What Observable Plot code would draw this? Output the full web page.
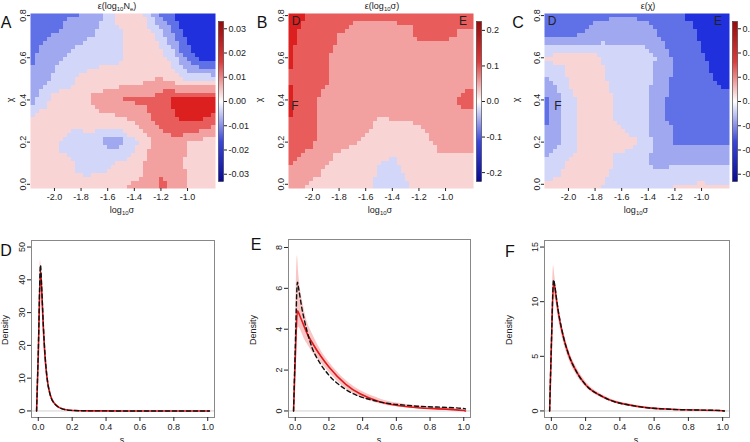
<!DOCTYPE html>
<html><head><meta charset="utf-8">
<script src="https://cdn.jsdelivr.net/npm/d3@7"></script>
<script src="https://cdn.jsdelivr.net/npm/@observablehq/plot@0.6"></script>
<style>
html,body{margin:0;padding:0;background:#fff;overflow:hidden;}
#wrap{position:relative;width:750px;height:442px;overflow:hidden;font-family:"Liberation Sans",Arial,Helvetica,sans-serif;color:#222;}
.p{position:absolute;top:0;left:0;}
.t{position:absolute;white-space:nowrap;transform:translate(-50%,-50%);font-size:9px;line-height:1;}
.r{transform:translate(-50%,-50%) rotate(-90deg);}
.L{font-size:16px;color:#111;}
.t sub{font-size:6px;vertical-align:-2px;line-height:0;}
</style></head><body><div id="wrap"></div>
<script>
// ---------- heatmap data ----------
const sigmaGrid = [-2.18,-2.1,-2.0,-1.9,-1.8,-1.7,-1.6,-1.5,-1.4,-1.3,-1.2,-1.1,-1.0,-0.9,-0.79];
const chiGrid = [0.81,0.7,0.6,0.5,0.4,0.3,0.2,0.1,-0.02];
const sigmaTicks = [-2.0,-1.8,-1.6,-1.4,-1.2,-1.0];
const chiTicks = [0.0,0.2,0.4,0.6,0.8];
// ε(log10 Ne), units of 0.001
const epsNe = [
 [-19,-19,-19,-18,-17,-12,-6,4,8,-4,-18,-26,-30,-32,-32],
 [-19,-18,-16,-12,-10,-8,-4,-2,5,5,-4,-16,-26,-30,-32],
 [-18,-14,-10,-7,-5,-3,-2,-1,2,4,4,-6,-20,-28,-30],
 [-16,-12,-6,-3,2,3,3,3,4,6,9,4,-2,-4,-4],
 [-12,-3,3,4,6,10,14,17,18,18,20,26,28,30,30],
 [2,3,3,3,3,4,5,6,8,14,20,24,26,25,20],
 [3,3,1,-3,-4,-4,-11,-11,-2,6,12,13,8,6,5],
 [3,3,3,2,-2,-3,-2,2,4,10,15,13,7,5,5],
 [3,3,3,3,3,4,5,8,10,12,18,15,8,6,5]
];
// ε(log10 σ), units of 0.01
const epsSigma = [
 [20,18,16,14,13,12.5,12.5,12.5,12.5,12.5,12.5,12.5,12.5,12,12],
 [19,16,14,13,11,10,9,8,9,10,12,12.5,12,11,11],
 [18,15,13,12,8,8,8,8,8,8,8,8,8,8,8],
 [17,15,12,12,8,8,8,8,8,8,8,8,8,8,10],
 [18,16,12,9,8,8,8,8,8,8,8,8,8,12,13],
 [17,15,12,10,8,8,7,5,5.5,5.5,6,7,8,9,9],
 [16,14,12,8,7,6,5,3,2,3,4,5.5,7,7,7],
 [12,10,8,6,4,3,2,0,-1,1,3,4,4,4,4],
 [8,7,4,3,3,2,1,-1,-2,-1,2,3,3,3,3]
];
// ε(χ), units of 0.001
const epsChi = [
 [-20,-20,-20,-19,-18,-18,-18,-18,-19,-20,-22,-26,-28,-30,-32],
 [-17,-17,-17,-16,-14,-12,-11,-11,-13,-17,-20,-22,-26,-28,-30],
 [1,3,3,3,2,-2,-4,-4,-5,-10,-18,-22,-24,-26,-28],
 [-10,-6,1,3,3,-1,-4,-4,-6,-14,-18,-20,-22,-25,-26],
 [-18,-12,-4,3,3,2,-3,-4,-8,-16,-18,-19,-20,-22,-24],
 [-18,-12,-4,3,3,2,-2,-4,-8,-16,-18,-19,-19,-20,-20],
 [-14,-10,-4,2,3,3,3,1,-6,-12,-18,-18,-18,-18,-18],
 [-6,-3,2,3,3,1,-3,-4,-8,-10,-8,-8,-8,-10,-10],
 [2,3,3,3,2,-2,-4,-4,-4,-4,1,2,3,3,3]
];
const cbTicksA = [-0.03,-0.02,-0.01,0,0.01,0.02,0.03];
const cbTicksB = [-0.2,-0.1,0,0.1,0.2];
const cbTicksC = [-0.03,-0.02,-0.01,0,0.01,0.02,0.03];

// ---------- density data ----------
const sGrid = [-0.01,0,0.013,0.02,0.03,0.04,0.05,0.07,0.1,0.15,0.2,0.3,0.5,0.7,1.0,1.01];
const sTicks = [0,0.2,0.4,0.6,0.8,1.0];
const trueD = [0,18,44.5,38,26,17,11,5,2,0.5,0.15,0.03,0,0,0,0];
const fitD  = [0,17,43,37,25.5,16.5,10.8,5,2,0.5,0.15,0.03,0,0,0,0];
const loD   = [0,15,40,34,23,15,10,4.5,1.8,0.4,0.1,0.02,0,0,0,0];
const hiD   = [0,20,46,40,28,18.5,12,5.5,2.2,0.6,0.2,0.05,0,0,0,0];
const trueE = [0,3.0,6.3,6.0,5.5,5.0,4.6,3.9,3.1,2.3,1.75,1.05,0.45,0.25,0.12,0.1];
const fitE  = [0,2.5,4.9,4.8,4.6,4.4,4.2,3.8,3.35,2.7,2.15,1.3,0.45,0.18,0.02,0];
const loE   = [0,1.5,4.0,4.1,4.0,3.8,3.6,3.3,2.9,2.4,1.9,1.1,0.35,0.12,0,0];
const hiE   = [0,4.0,7.6,6.8,6.0,5.5,5.1,4.4,3.8,3.0,2.4,1.5,0.6,0.28,0.06,0.03];
const trueF = [0,6,12,11.5,10.3,9.2,8.3,6.8,5.2,3.5,2.4,1.3,0.42,0.15,0.02,0];
const fitF  = [0,5.8,11.8,11.3,10.2,9.1,8.2,6.8,5.2,3.5,2.4,1.3,0.42,0.15,0.02,0];
const loF   = [0,5,10.6,10.4,9.6,8.6,7.7,6.3,4.8,3.2,2.2,1.15,0.35,0.12,0.01,0];
const hiF   = [0,7,13.3,12.4,11.0,9.8,8.9,7.4,5.7,3.9,2.7,1.45,0.5,0.18,0.03,0];
const ticksD = [0,10,20,30,40,50];
const ticksE = [0,2,4,6,8];
const ticksF = [0,5,10,15];

// ---------- drawing ----------
const FONT = '"Liberation Sans", Arial, Helvetica, sans-serif';
const wrap = document.getElementById("wrap");
const baseStyle = {fontSize: "9px", fontFamily: FONT, color: "#222", background: "transparent", overflow: "visible"};
const heatColors = ["#2030dc", "#6070e6", "#a0a8f0", "#d2d6f8", "#f8d4d4", "#f2a0a0", "#e85c5c", "#dc2020"];
const cbInterp = d3.piecewise(d3.interpolateRgb, ["#0a0a96", "#3a46e0", "#ffffff", "#e03a3a", "#9a0a0a"]);

function place(node, left, top) {
  node.classList.add("p");
  node.style.left = left + "px";
  node.style.top = top + "px";
  wrap.appendChild(node);
}

function gridPoints(grid, unit) {
  const pts = [];
  chiGrid.forEach((c, i) => sigmaGrid.forEach((s, j) => pts.push({x: s, y: c, v: grid[i][j] * unit})));
  return pts;
}

function heat(grid, unit, L, ml, mr) {
  const thr = [-0.75, -0.5, -0.25, 0, 0.25, 0.5, 0.75].map(t => t * L);
  return Plot.plot({
    width: 250, height: 220, marginLeft: ml, marginRight: mr, marginTop: 13, marginBottom: 32,
    style: baseStyle,
    x: {domain: [-2.18, -0.79]},
    y: {domain: [-0.02, 0.81]},
    color: {type: "threshold", domain: thr, range: heatColors},
    marks: [
      Plot.raster(gridPoints(grid, unit), {x: "x", y: "y", fill: "v", interpolate: "barycentric", pixelSize: 4,
        x1: -2.18, x2: -0.79, y1: -0.02, y2: 0.81, imageRendering: "pixelated"}),
      Plot.axisX({ticks: sigmaTicks, tickFormat: d => d.toFixed(1), tickSize: 3, tickPadding: 2, label: null}),
      Plot.axisY({ticks: chiTicks, tickFormat: d => d.toFixed(1), tickSize: 3, tickPadding: 2, tickRotate: -90, label: null})
    ]
  });
}

function colorbar(L, ticks, fmt) {
  return Plot.plot({
    width: 45, height: 220, marginLeft: 1, marginRight: 39, marginTop: 21, marginBottom: 39,
    style: baseStyle,
    x: {domain: [0, 1], axis: null},
    y: {domain: [-L, L]},
    color: {type: "linear", domain: [-L, L], interpolate: cbInterp},
    marks: [
      Plot.raster({fill: (x, y) => y, x1: 0, x2: 1, y1: -L, y2: L}),
      Plot.frame({stroke: "#333", strokeWidth: 0.6}),
      Plot.axisY({anchor: "right", ticks, tickFormat: fmt, tickSize: 3, tickPadding: 2, label: null})
    ]
  });
}

function dens(tr, fit, lo, hi, yDom, yTicks, ml, mr, mt) {
  const rows = sGrid.map((s, i) => ({s, tr: tr[i], fit: fit[i], lo: lo[i], hi: hi[i]}));
  const curve = "monotone-x";
  return Plot.plot({
    width: 250, height: 222, marginLeft: ml, marginRight: mr, marginTop: mt, marginBottom: 25,
    style: baseStyle,
    x: {domain: [-0.04, 1.04]},
    y: {domain: yDom},
    marks: [
      Plot.ruleY([0], {stroke: "#d0d0d0", strokeWidth: 1}),
      Plot.areaY(rows, {x: "s", y1: "lo", y2: "hi", fill: "#f07070", fillOpacity: 0.4, curve}),
      Plot.lineY(rows, {x: "s", y: "fit", stroke: "#e3191c", strokeWidth: 1.6, curve}),
      Plot.lineY(rows, {x: "s", y: "tr", stroke: "#111", strokeWidth: 1.4, strokeDasharray: "4,3", curve}),
      Plot.frame({stroke: "#888"}),
      Plot.axisX({ticks: sTicks, tickFormat: d => d.toFixed(1), tickSize: 4, tickPadding: 2, label: null}),
      Plot.axisY({ticks: yTicks, tickFormat: d => String(d), tickSize: 4, tickPadding: 3, tickRotate: -90, label: null})
    ]
  });
}

place(heat(epsNe, 0.001, 0.033, 30, 35), 0, 0);
place(heat(epsSigma, 0.01, 0.225, 38, 27), 250, 0);
place(heat(epsChi, 0.001, 0.033, 44, 21), 500, 0);
place(colorbar(0.033, cbTicksA, d => d.toFixed(2)), 217, 0);
place(colorbar(0.225, cbTicksB, d => d.toFixed(1)), 475, 0);
place(colorbar(0.033, cbTicksC, d => d.toFixed(2)), 731, 0);
place(dens(trueD, fitD, loD, hiD, [-2, 52], ticksD, 31, 36, 20), 0, 220);
place(dens(trueE, fitE, loE, hiE, [-0.32, 8.39], ticksE, 38, 30, 19), 250, 220);
place(dens(trueF, fitF, loF, hiF, [-0.6, 15.6], ticksF, 44, 21, 20), 500, 220);

// ---------- text ----------
function label(html, x, y, cls = "") {
  const d = document.createElement("div");
  d.className = "t " + cls;
  d.innerHTML = html;
  d.style.left = x + "px";
  d.style.top = y + "px";
  wrap.appendChild(d);
}
const sig = "log<sub>10</sub>σ";
label("ε(log<sub>10</sub>N<sub>e</sub>)", 117, 6);
label("ε(log<sub>10</sub>σ)", 382, 6);
label("ε(χ)", 648, 6);
label(sig, 122, 210); label(sig, 380, 210); label(sig, 636, 210);
label("χ", 10, 100, "r"); label("χ", 259, 100, "r"); label("χ", 516, 100, "r");
label("Density", 5, 330, "r"); label("Density", 253, 330, "r"); label("Density", 509, 330, "r");
label("s", 122, 440); label("s", 379, 440); label("s", 636, 440);
label("A", 6, 23, "L"); label("B", 262, 23, "L"); label("C", 518, 23, "L");
label("D", 6, 251, "L"); label("E", 256, 245, "L"); label("F", 510, 252, "L");
label("D", 296, 21, "L2"); label("E", 463, 21, "L2"); label("F", 295, 106, "L2");
label("D", 552, 21, "L2"); label("E", 718, 21, "L2"); label("F", 558, 106, "L2");
document.querySelectorAll(".L2").forEach(e => { e.style.fontSize = "12px"; e.style.color = "#222"; });
</script></body></html>
